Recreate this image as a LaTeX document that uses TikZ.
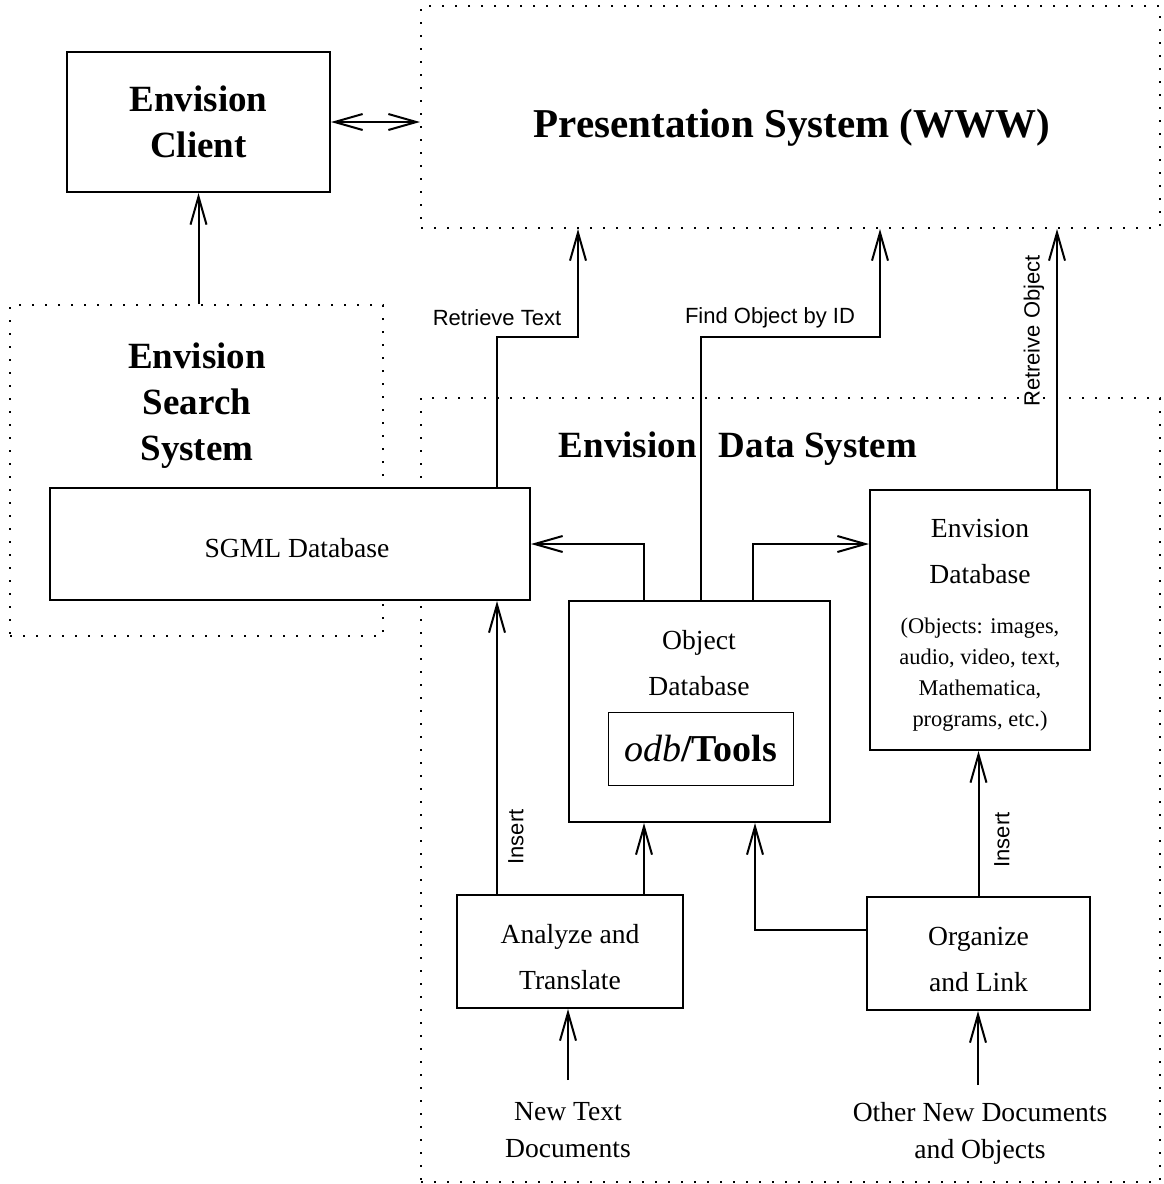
\documentclass[tikz,border=0pt]{standalone}
\usepackage{fontspec}
\setmainfont{Liberation Serif}
\setsansfont{Liberation Sans}
\usetikzlibrary{arrows.meta}
\begin{document}
\begin{tikzpicture}[x=0.5pt,y=-0.5pt, line width=1pt,
  box/.style={draw, fill=white, inner sep=0pt, align=center},
  dotbox/.style={draw, dash pattern=on 1pt off 5.5pt, inner sep=0pt},
  arr/.style={-{Straight Barb[length=14pt,width=8pt]}},
  dblarr/.style={{Straight Barb[length=14pt,width=8pt]}-{Straight Barb[length=14pt,width=8pt]}},
  bigbold/.style={font=\bfseries\fontsize{18.5}{23}\selectfont, align=center},
  reg/.style={font=\fontsize{13.8}{23}\selectfont, align=center},
  small/.style={font=\fontsize{11.2}{15.5}\selectfont, align=center},
  lab/.style={font=\sffamily\fontsize{11}{13}\selectfont, inner sep=0pt},
  src/.style={font=\fontsize{13.8}{18.5}\selectfont, align=center}
]
\useasboundingbox (0,0) rectangle (1163,1184);

% dotted containers
\node[dotbox, minimum width=369.5pt, minimum height=111pt] (pres) at (790.5,117) {};
\node[font=\bfseries\fontsize{20.5}{25}\selectfont] (prestext) at (792,128) {Presentation System (WWW)};
\node[dotbox, minimum width=186.5pt, minimum height=165.5pt] (search) at (196.5,470.5) {};
\node[bigbold] (searchtext) at (197,406) {Envision\\Search\\System};
\node[dotbox, minimum width=369.5pt, minimum height=392pt] (data) at (790.5,790) {};
\node[bigbold] (datatext) at (738,449) {Envision\hspace{0.6em}Data System};

% solid boxes
\node[box, bigbold, minimum width=131.5pt, minimum height=70pt] (client) at (198.5,122) {Envision\\Client};
\node[box, minimum width=240pt, minimum height=56pt] (sgml) at (290,544) {};
\node[reg] (sgmltext) at (297,548) {SGML Database};
\node[box, minimum width=130.5pt, minimum height=110.5pt] (objdb) at (699.5,711.5) {};
\node[reg] (objtext) at (699,663) {Object\\Database};
\node[draw, line width=0.5pt, minimum width=92.5pt, minimum height=36.5pt, inner sep=0pt,
      font=\fontsize{19}{22}\selectfont] (odb) at (700.5,748.5) {\textit{odb}\textbf{/Tools}};
\node[box, minimum width=110pt, minimum height=130pt] (envdb) at (980,620) {};
\node[reg] (envtitle) at (980,551.5) {Envision\\Database};
\node[small] (envdetail) at (980,675) {(Objects: images,\\audio, video, text,\\Mathematica,\\programs, etc.)};
\node[box, minimum width=113pt, minimum height=56.5pt] (analyze) at (570,951.5) {};
\node[reg] (analyzetext) at (570,957.5) {Analyze and\\Translate};
\node[box, minimum width=111.5pt, minimum height=56.5pt] (organize) at (978.5,953.5) {};
\node[reg] (organizetext) at (978.5,959.5) {Organize\\and Link};

\node[src] (newtext) at (568,1130) {New Text\\Documents};
\node[src] (othernew) at (980,1133) {Other New Documents\\and Objects};

% connectors
\draw[arr] (search.north -| client) -- (client.south);
\draw[dblarr] (client.east) -- (client.east -| pres.west);

\coordinate (rt1) at (497,337);
\coordinate (rt2) at (578,337);
\draw[arr] (sgml.north -| rt1) -- (rt1) -- (rt2) -- (pres.south -| rt2);
\coordinate (fo1) at (701,337);
\coordinate (fo2) at (880,337);
\draw[arr] (objdb.north -| fo1) -- (fo1) -- (fo2) -- (pres.south -| fo2);
\coordinate (ro) at (1057,490);
\draw[arr] (envdb.north -| ro) -- (pres.south -| ro);

\coordinate (os) at (644,544);
\draw[arr] (objdb.north -| os) -- (os) -- (sgml.east |- os);
\coordinate (oe) at (753,544);
\draw[arr] (objdb.north -| oe) -- (oe) -- (envdb.west |- oe);

\coordinate (ai) at (497,900);
\draw[arr] (analyze.north -| ai) -- (sgml.south -| ai);
\coordinate (ao) at (644,900);
\draw[arr] (analyze.north -| ao) -- (objdb.south -| ao);
\coordinate (oo) at (755,930);
\draw[arr] (organize.west |- oo) -- (oo) -- (objdb.south -| oo);
\draw[arr] (organize.north) -- (envdb.south -| organize.north);

\coordinate (nt) at (568,1080);
\draw[arr] (nt) -- (analyze.south -| nt);
\coordinate (on) at (978,1085);
\draw[arr] (on) -- (organize.south -| on);

% labels
\node[lab] (lrt) at (497,318) {Retrieve Text};
\node[lab] (lfo) at (770,318) {Find Object by ID};
\node[lab, rotate=90] (lro) at (1034,331) {Retreive Object};
\node[lab, rotate=90] (lin1) at (516,837) {Insert};
\node[lab, rotate=90] (lin2) at (1002,840) {Insert};
\end{tikzpicture}
\end{document}
